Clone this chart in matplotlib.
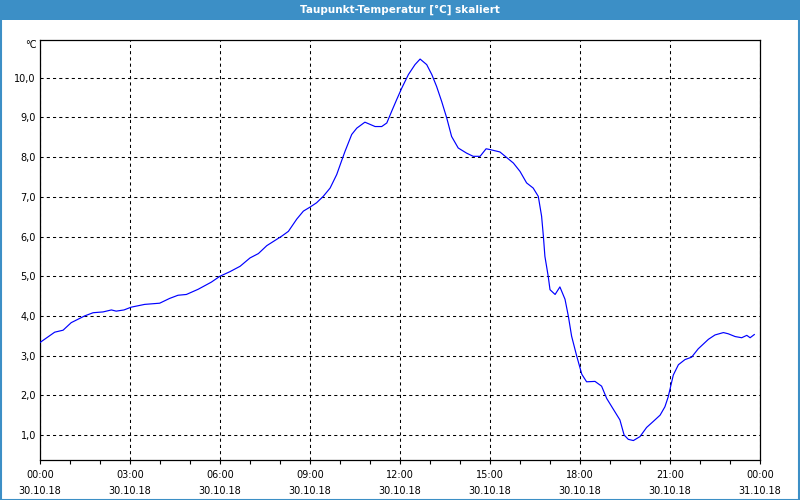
# Taupunkt-Temperatur, 30.10.18 - skaliert
import matplotlib
matplotlib.use("Agg")
import matplotlib.pyplot as plt
from matplotlib.patches import Rectangle

# ── DATA ──────────────────────────────────────────────────────────────────────

TITLE = "Taupunkt-Temperatur [°C] skaliert"

hours = [0.0, 0.49, 0.77, 1.04, 1.49, 1.77, 2.1, 2.38, 2.54, 2.8,
         3.04, 3.49, 3.99, 4.32, 4.6, 4.88, 5.27, 5.71, 6.0, 6.32,
         6.67, 7.0, 7.28, 7.56, 8.06, 8.28, 8.56, 8.78, 9.0, 9.22,
         9.44, 9.67, 9.89, 10.05, 10.17, 10.39, 10.56, 10.83, 11.17, 11.39,
         11.56, 11.72, 11.89, 12.06, 12.28, 12.5, 12.67, 12.89, 13.06, 13.22,
         13.39, 13.56, 13.72, 13.94, 14.22, 14.44, 14.67, 14.87, 15.0, 15.33,
         15.78, 16.0, 16.22, 16.44, 16.61, 16.72, 16.78, 16.83, 16.94, 17.0,
         17.17, 17.33, 17.5, 17.61, 17.72, 17.89, 18.06, 18.22, 18.5, 18.72,
         18.89, 19.11, 19.33, 19.47, 19.61, 19.78, 20.0, 20.22, 20.44, 20.67,
         20.83, 20.94, 21.11, 21.28, 21.5, 21.72, 21.94, 22.28, 22.5, 22.78,
         22.94, 23.17, 23.39, 23.56, 23.67, 23.81]

dewpoint = [3.33, 3.59, 3.64, 3.83, 4.00, 4.08, 4.10, 4.15, 4.12, 4.15,
            4.22, 4.29, 4.32, 4.44, 4.52, 4.54, 4.67, 4.85, 5.00, 5.11,
            5.25, 5.46, 5.57, 5.77, 6.01, 6.13, 6.44, 6.64, 6.74, 6.85,
            7.01, 7.22, 7.56, 7.90, 8.15, 8.57, 8.73, 8.88, 8.77, 8.77,
            8.86, 9.15, 9.45, 9.74, 10.08, 10.33, 10.47, 10.33, 10.08, 9.78,
            9.40, 8.98, 8.52, 8.23, 8.10, 8.02, 8.02, 8.21, 8.19, 8.13,
            7.85, 7.64, 7.35, 7.22, 7.01, 6.51, 6.00, 5.50, 5.00, 4.66,
            4.54, 4.73, 4.42, 4.00, 3.49, 2.99, 2.53, 2.34, 2.35, 2.23,
            1.92, 1.65, 1.38, 1.00, 0.89, 0.86, 0.96, 1.19, 1.34, 1.50,
            1.71, 1.96, 2.51, 2.77, 2.90, 2.96, 3.17, 3.41, 3.52, 3.58,
            3.55, 3.48, 3.45, 3.51, 3.45, 3.53]

x_ticks = [0, 3, 6, 9, 12, 15, 18, 21, 24]
x_labels = ["00:00\n30.10.18", "03:00\n30.10.18", "06:00\n30.10.18",
            "09:00\n30.10.18", "12:00\n30.10.18", "15:00\n30.10.18",
            "18:00\n30.10.18", "21:00\n30.10.18", "00:00\n31.10.18"]
y_ticks = [1, 2, 3, 4, 5, 6, 7, 8, 9, 10]
y_labels = ["1,0", "2,0", "3,0", "4,0", "5,0", "6,0", "7,0", "8,0", "9,0", "10,0"]

# ── STYLE ─────────────────────────────────────────────────────────────────────

FRAME_BLUE = "#3c8fc6"
plt.rcParams["font.family"] = ["DejaVu Sans"]

W, H = 800, 500
fig = plt.figure(figsize=(8, 5), dpi=100, facecolor="white")

# title bar + thin frame around the window
fig.patches.append(Rectangle((0, 1 - 20 / H), 1, 20 / H, transform=fig.transFigure,
                             facecolor=FRAME_BLUE, edgecolor="none", zorder=0))
fig.patches.append(Rectangle((0.5 / W, 0.5 / H), 1 - 1.5 / W, 1 - 1 / H,
                             transform=fig.transFigure, facecolor="none",
                             edgecolor=FRAME_BLUE, linewidth=1.5, zorder=0))
fig.text(0.5, 1 - 10 / H, TITLE, color="white", fontsize=7.5, fontweight="bold",
         ha="center", va="center")

ax = fig.add_axes([40 / W, 40 / H, 720 / W, 420 / H])
ax.plot(hours, dewpoint, color="#0000ff", linewidth=0.85, zorder=3)

ax.set_xlim(0, 24)
ax.set_ylim(0.37, 10.95)

ax.set_xticks(x_ticks)
ax.set_xticklabels(x_labels, fontsize=7, linespacing=1.75)
ax.set_xticks(range(25), minor=True)
ax.tick_params(axis="x", which="both", length=3, width=0.8, direction="out", pad=4)

ax.set_yticks(y_ticks)
ax.set_yticklabels(y_labels, fontsize=7)
ax.tick_params(axis="y", length=0, pad=3)

ax.grid(True, which="major", color="black", linestyle=(0, (3, 3)), linewidth=0.75)

for sp in ax.spines.values():
    sp.set_color("black")
    sp.set_linewidth(0.9)

ax.text(-3 / 720, 1 - 5 / 420, "°C", transform=ax.transAxes, fontsize=7,
        ha="right", va="center")

plt.savefig("out.png", dpi=100)
plt.close()
